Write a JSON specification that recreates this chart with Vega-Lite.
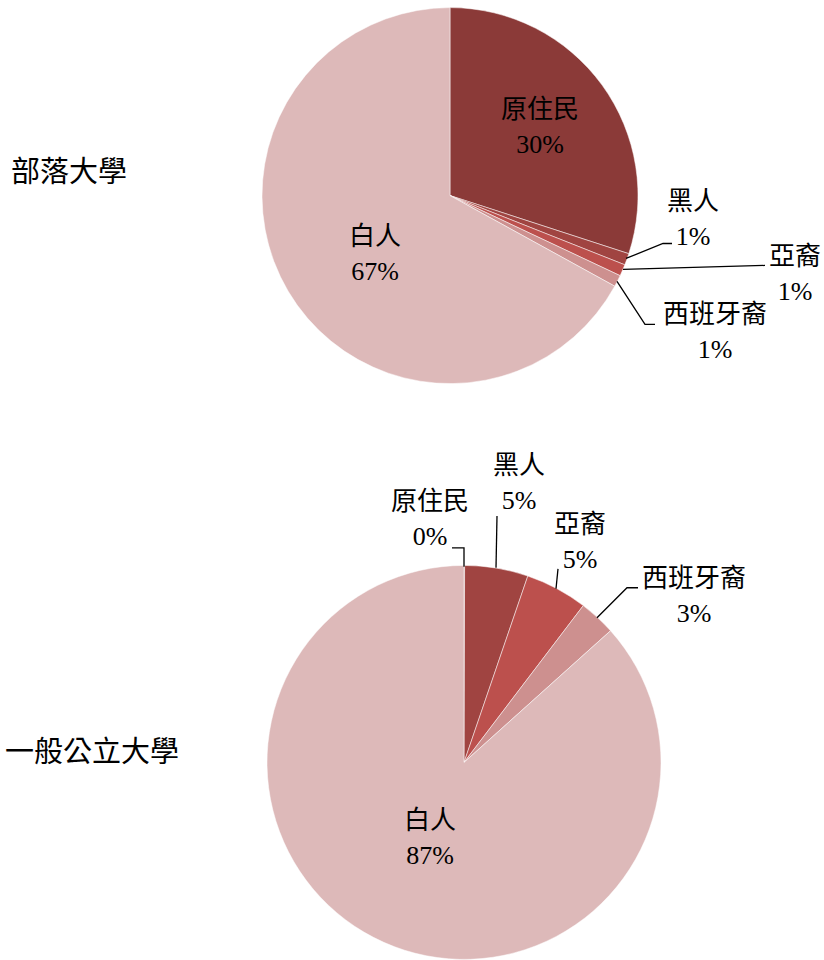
{
  "$schema": "https://vega.github.io/schema/vega-lite/v6.json",
  "width": 824,
  "height": 960,
  "autosize": {"type": "fit", "contains": "padding"},
  "padding": 0,
  "background": "#ffffff",
  "config": {"view": {"stroke": null}},
  "datasets": {
    "slices": [
      {"id": "a1", "pie": "部落大學", "category": "原住民", "value": 0.30, "rank": 1},
      {"id": "a2", "pie": "部落大學", "category": "黑人", "value": 0.01, "rank": 2},
      {"id": "a3", "pie": "部落大學", "category": "亞裔", "value": 0.01, "rank": 3},
      {"id": "a4", "pie": "部落大學", "category": "西班牙裔", "value": 0.01, "rank": 4},
      {"id": "a5", "pie": "部落大學", "category": "白人", "value": 0.67, "rank": 5},
      {"id": "b1", "pie": "一般公立大學", "category": "原住民", "value": 0.0005, "rank": 1},
      {"id": "b2", "pie": "一般公立大學", "category": "黑人", "value": 0.052, "rank": 2},
      {"id": "b3", "pie": "一般公立大學", "category": "亞裔", "value": 0.051, "rank": 3},
      {"id": "b4", "pie": "一般公立大學", "category": "西班牙裔", "value": 0.03, "rank": 4},
      {"id": "b5", "pie": "一般公立大學", "category": "白人", "value": 0.8665, "rank": 5}
    ],
    "labels": [
      {"id": "a1", "lx": 540, "ly": 110},
      {"id": "a2", "lx": 693, "ly": 202},
      {"id": "a3", "lx": 795, "ly": 258},
      {"id": "a4", "lx": 715, "ly": 316},
      {"id": "a5", "lx": 375, "ly": 237},
      {"id": "b1", "lx": 430, "ly": 503},
      {"id": "b2", "lx": 519, "ly": 467},
      {"id": "b3", "lx": 580, "ly": 526},
      {"id": "b4", "lx": 694, "ly": 580},
      {"id": "b5", "lx": 430, "ly": 823}
    ],
    "leaders": [
      {"g": "a2", "s": 1, "x": 626, "y": 259},
      {"g": "a2", "s": 2, "x": 663, "y": 244},
      {"g": "a2", "s": 3, "x": 672, "y": 244},
      {"g": "a3", "s": 1, "x": 623, "y": 270},
      {"g": "a3", "s": 2, "x": 765, "y": 266},
      {"g": "a4", "s": 1, "x": 617, "y": 282},
      {"g": "a4", "s": 2, "x": 645, "y": 325},
      {"g": "a4", "s": 3, "x": 655, "y": 325},
      {"g": "b1", "s": 1, "x": 452, "y": 549},
      {"g": "b1", "s": 2, "x": 464, "y": 549},
      {"g": "b1", "s": 3, "x": 464, "y": 568},
      {"g": "b2", "s": 1, "x": 497, "y": 517},
      {"g": "b2", "s": 2, "x": 496, "y": 569},
      {"g": "b3", "s": 1, "x": 558, "y": 570},
      {"g": "b3", "s": 2, "x": 556, "y": 590},
      {"g": "b4", "s": 1, "x": 638, "y": 589},
      {"g": "b4", "s": 2, "x": 627, "y": 589},
      {"g": "b4", "s": 3, "x": 597, "y": 619}
    ],
    "titles": [
      {"title": "部落大學", "tx": 11, "ty": 173},
      {"title": "一般公立大學", "tx": 5, "ty": 755}
    ]
  },
  "layer": [
    {
      "data": {"name": "slices"},
      "transform": [
        {"filter": "datum.pie === '部落大學'"},
        {"stack": "value", "groupby": ["pie"], "sort": [{"field": "rank", "order": "ascending"}], "as": ["v0", "v1"]}
      ],
      "mark": {"type": "arc", "radius": 188, "stroke": "#ffffff", "strokeWidth": 0.5},
      "encoding": {
        "x": {"datum": 450, "type": "quantitative", "scale": {"domain": [0, 824]}, "axis": null},
        "y": {"datum": 196, "type": "quantitative", "scale": {"domain": [0, 960], "reverse": true}, "axis": null},
        "theta": {"field": "v0", "type": "quantitative", "scale": {"domain": [0, 1]}},
        "theta2": {"field": "v1"},
        "color": {
          "field": "category", "type": "nominal",
          "scale": {"domain": ["原住民", "黑人", "亞裔", "西班牙裔", "白人"], "range": ["#8B3A38", "#A04441", "#BC504D", "#CD908F", "#DDB9B9"]},
          "legend": null
        }
      }
    },
    {
      "data": {"name": "slices"},
      "transform": [
        {"filter": "datum.pie === '一般公立大學'"},
        {"stack": "value", "groupby": ["pie"], "sort": [{"field": "rank", "order": "ascending"}], "as": ["v0", "v1"]}
      ],
      "mark": {"type": "arc", "radius": 197, "stroke": "#ffffff", "strokeWidth": 0.5},
      "encoding": {
        "x": {"datum": 464, "type": "quantitative", "scale": {"domain": [0, 824]}, "axis": null},
        "y": {"datum": 764, "type": "quantitative", "scale": {"domain": [0, 960], "reverse": true}, "axis": null},
        "theta": {"field": "v0", "type": "quantitative", "scale": {"domain": [0, 1]}},
        "theta2": {"field": "v1"},
        "color": {
          "field": "category", "type": "nominal",
          "scale": {"domain": ["原住民", "黑人", "亞裔", "西班牙裔", "白人"], "range": ["#8B3A38", "#A04441", "#BC504D", "#CD908F", "#DDB9B9"]},
          "legend": null
        }
      }
    },
    {
      "data": {"name": "leaders"},
      "mark": {"type": "line", "color": "#000000", "strokeWidth": 1.3},
      "encoding": {
        "x": {"field": "x", "type": "quantitative", "scale": {"domain": [0, 824]}, "axis": null},
        "y": {"field": "y", "type": "quantitative", "scale": {"domain": [0, 960], "reverse": true}, "axis": null},
        "detail": {"field": "g", "type": "nominal"},
        "order": {"field": "s", "type": "quantitative"}
      }
    },
    {
      "data": {"name": "labels"},
      "transform": [
        {"lookup": "id", "from": {"data": {"name": "slices"}, "key": "id", "fields": ["category", "value"]}}
      ],
      "mark": {"type": "text", "font": "Noto Sans CJK TC", "fontSize": 26, "align": "center", "baseline": "middle", "color": "#000000"},
      "encoding": {
        "x": {"field": "lx", "type": "quantitative", "scale": {"domain": [0, 824]}, "axis": null},
        "y": {"field": "ly", "type": "quantitative", "scale": {"domain": [0, 960], "reverse": true}, "axis": null},
        "text": {"field": "category", "type": "nominal"}
      }
    },
    {
      "data": {"name": "labels"},
      "transform": [
        {"lookup": "id", "from": {"data": {"name": "slices"}, "key": "id", "fields": ["category", "value"]}}
      ],
      "mark": {"type": "text", "font": "Liberation Serif, Times New Roman, serif", "fontSize": 26, "align": "center", "baseline": "middle", "dy": 35, "color": "#000000"},
      "encoding": {
        "x": {"field": "lx", "type": "quantitative", "scale": {"domain": [0, 824]}, "axis": null},
        "y": {"field": "ly", "type": "quantitative", "scale": {"domain": [0, 960], "reverse": true}, "axis": null},
        "text": {"field": "value", "type": "quantitative", "format": ".0%"}
      }
    },
    {
      "data": {"name": "titles"},
      "mark": {"type": "text", "font": "Noto Sans CJK TC", "fontSize": 29, "align": "left", "baseline": "middle", "color": "#000000"},
      "encoding": {
        "x": {"field": "tx", "type": "quantitative", "scale": {"domain": [0, 824]}, "axis": null},
        "y": {"field": "ty", "type": "quantitative", "scale": {"domain": [0, 960], "reverse": true}, "axis": null},
        "text": {"field": "title", "type": "nominal"}
      }
    }
  ]
}
